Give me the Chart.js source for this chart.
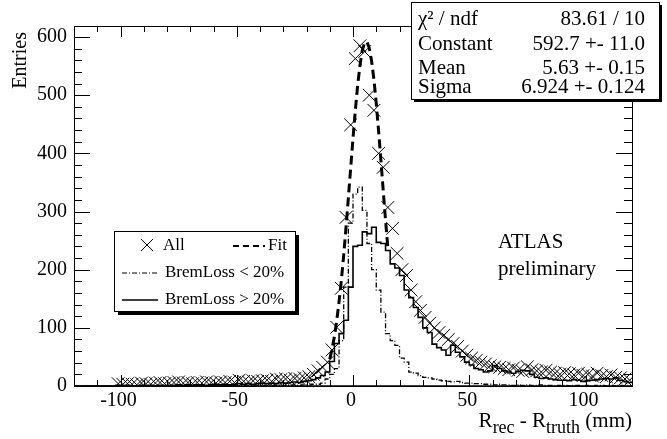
<!DOCTYPE html>
<html lang="en">
<head>
<meta charset="UTF-8">
<title>R_rec - R_truth</title>
<script src="https://cdn.jsdelivr.net/npm/chart.js"></script>
<style>
    body { margin: 0; background: white; }
    #wrap { width: 667px; height: 439px; }
</style>
</head>
<body>
<div id="wrap"><canvas id="c" width="667" height="439"></canvas></div>
<script>
// histogram: 120 bins of 2 mm from -120 to 120
const binLow = -120, binWidth = 2;

// "All" (markers), null = empty bin
const allEntries = [
    null, null, null, null, null, null, null, null, null, 4,
    3, 4, 3, 2, 5, 4, 3, 5, 6, 4,
    5, 6, 7, 5, 6, 4, 6, 5, 7, 6,
    5, 7, 6, 8, 6, 10, 8, 7, 9, 8,
    9, 10, 8, 12, 11, 12, 10, 13, 12, 14,
    16, 20, 26, 32, 41, 62, 101, 168, 290, 449,
    563, 585, 575, 500, 474, 400, 376, 307, 271, 228,
    200, 190, 165, 145, 130, 118, 108, 100, 92, 87,
    80, 73, 68, 60, 53, 48, 44, 41, 38, 35,
    33, 32, 30, 28, 31, 27, 25, 33, 28, 26,
    24, 27, 24, 22, 20, 23, 21, 19, 22, 18,
    20, 17, 22, 18, 16, 19, 15, 14, 12, 10
];

// BremLoss > 20% (solid)
const bremHigh = [
    0, 0, 0, 0, 0, 0, 0, 0, 0, 1,
    0, 1, 0, 0, 1, 0, 1, 0, 1, 0,
    1, 1, 2, 1, 2, 1, 2, 2, 1, 2,
    3, 2, 3, 2, 3, 4, 3, 4, 3, 4,
    5, 4, 5, 4, 6, 5, 6, 7, 6, 8,
    9, 11, 14, 18, 24, 42, 73, 90, 113, 170,
    240, 242, 265, 262, 273, 247, 245, 233, 210, 203,
    190, 165, 152, 135, 118, 100, 92, 72, 66, 62,
    53, 70, 58, 50, 41, 36, 30, 28, 24, 26,
    35, 30, 26, 24, 22, 25, 27, 26, 20, 15,
    13, 14, 12, 11, 10, 10, 9, 11, 10, 8,
    9, 10, 11, 12, 13, 12, 14, 10, 8, 6
];

// BremLoss < 20% (dash-dot)
const bremLow = [
    0, 0, 0, 0, 0, 0, 0, 0, 0, 0,
    0, 0, 0, 0, 0, 0, 0, 0, 0, 0,
    0, 0, 0, 0, 0, 0, 0, 0, 0, 0,
    0, 0, 0, 0, 0, 0, 0, 0, 0, 0,
    1, 0, 1, 1, 0, 1, 1, 2, 1, 2,
    2, 3, 3, 5, 12, 20, 30, 78, 170, 280,
    330, 342, 302, 245, 200, 165, 127, 90, 78, 70,
    48, 41, 24, 22, 18, 15, 14, 12, 10, 9,
    8, 7, 8, 6, 5, 5, 4, 4, 3, 3,
    2, 3, 2, 2, 1, 2, 1, 2, 1, 1,
    2, 1, 1, 0, 1, 1, 0, 1, 1, 0,
    1, 0, 1, 1, 0, 1, 0, 1, 0, 0
];

// gaussian fit curve
const fitX = [-10, -9, -8, -7, -6, -5, -4, -3, -2, -1, 0, 1, 2, 3, 4, 5, 6, 7, 8, 9, 10, 11, 12, 13, 14, 15];
const fitY = [46, 64, 85, 112, 145, 182, 225, 273, 323, 375, 426, 474, 517, 551, 577, 590, 592, 581, 559, 527, 486, 439, 388, 336, 285, 237];

const xTickLabels = [-100, -50, 0, 50, 100];
const yTickLabels = [0, 100, 200, 300, 400, 500, 600];

const statNames = ["\u03C7\u00B2 / ndf", "Constant", "Mean", "Sigma"];
const statValues = ["83.61 / 10", "592.7 +- 11.0", "5.63 +- 0.15", "6.924 +- 0.124"];

const FONT = '"Liberation Serif", "Times New Roman", serif';

function stepPoints(vals) {
    let pts = vals.map((v, i) => ({ x: binLow + i * binWidth, y: v }));
    pts.push({ x: binLow + vals.length * binWidth, y: vals[vals.length - 1] });
    return pts;
}

const markerPts = allEntries.map((v, i) => ({ x: binLow + (i + 0.5) * binWidth, y: v }));
const fitPts = fitX.map((x, i) => ({ x: x, y: fitY[i] }));

function seg(ctx, x1, y1, x2, y2) {
    ctx.beginPath(); ctx.moveTo(x1, y1); ctx.lineTo(x2, y2); ctx.stroke();
}

const decorations = {
    id: 'decorations',
    afterDatasetsDraw(chart) {
        const { ctx, chartArea: a, scales: { x, y } } = chart;
        ctx.save();
        ctx.strokeStyle = '#000';
        ctx.fillStyle = '#000';
        ctx.lineWidth = 1;

        // frame
        ctx.strokeRect(a.left + 0.5, a.top + 0.5, a.right - a.left, a.bottom - a.top);
        ctx.lineWidth = 1.5;
        seg(ctx, a.left, a.bottom, a.right, a.bottom);
        ctx.lineWidth = 1;

        // x ticks (inside, bottom and top)
        for (let v = -120; v <= 120; v += 10) {
            const px = Math.round(x.getPixelForValue(v)) + 0.5;
            const len = v % 50 === 0 ? 11 : 6;
            seg(ctx, px, a.bottom, px, a.bottom - len);
            seg(ctx, px, a.top, px, a.top + len);
        }
        // y ticks (inside, left and right)
        for (let v = 0; v <= 610; v += 20) {
            const py = Math.round(y.getPixelForValue(v)) + 0.5;
            const len = v % 100 === 0 ? 16 : 8;
            seg(ctx, a.left, py, a.left + len, py);
            seg(ctx, a.right, py, a.right - len, py);
        }

        // tick labels
        ctx.font = '20px ' + FONT;
        ctx.textAlign = 'center';
        ctx.textBaseline = 'middle';
        xTickLabels.forEach(v => ctx.fillText(String(v), x.getPixelForValue(v) - 2, 401));
        ctx.textAlign = 'right';
        yTickLabels.forEach(v => ctx.fillText(String(v), 67, y.getPixelForValue(v)));

        // y title
        ctx.save();
        ctx.translate(21, 32);
        ctx.rotate(-Math.PI / 2);
        ctx.textAlign = 'right';
        ctx.textBaseline = 'middle';
        ctx.fillText('Entries', 0, 0);
        ctx.restore();

        // x title with subscripts
        const parts = [
            ['R', 21, 0], ['rec', 18, 6], [' - R', 21, 0], ['truth', 18, 6], [' (mm)', 21, 0]
        ];
        let total = 0;
        parts.forEach(p => { ctx.font = p[1] + 'px ' + FONT; total += ctx.measureText(p[0]).width; });
        let cx = a.right - total;
        ctx.textAlign = 'left';
        ctx.textBaseline = 'alphabetic';
        parts.forEach(p => {
            ctx.font = p[1] + 'px ' + FONT;
            ctx.fillText(p[0], cx, 427 + p[2]);
            cx += ctx.measureText(p[0]).width;
        });

        // ATLAS preliminary
        ctx.font = '21px ' + FONT;
        ctx.fillText('ATLAS', 498, 248);
        ctx.fillText('preliminary', 498, 275);

        ctx.restore();
    },
    afterDraw(chart) {
        const ctx = chart.ctx;
        ctx.save();
        ctx.fillStyle = '#000';
        ctx.strokeStyle = '#000';
        ctx.lineWidth = 1;

        // stats box
        const sb = { x: 411, y: 2, w: 248, h: 97 };
        ctx.fillRect(sb.x + 3, sb.y + 3, sb.w, sb.h);
        ctx.fillStyle = '#fff';
        ctx.fillRect(sb.x, sb.y, sb.w, sb.h);
        ctx.strokeRect(sb.x + 0.5, sb.y + 0.5, sb.w, sb.h);
        ctx.fillStyle = '#000';
        ctx.font = '21px ' + FONT;
        ctx.textBaseline = 'alphabetic';
        const rowY = [25, 50, 74, 93];
        statNames.forEach((n, i) => {
            ctx.textAlign = 'left';
            ctx.fillText(n, 418, rowY[i]);
            ctx.textAlign = 'right';
            ctx.fillText(statValues[i], 645, rowY[i]);
        });

        // legend box
        const lb = { x: 114, y: 231, w: 181, h: 80 };
        ctx.fillRect(lb.x + 4, lb.y + 4, lb.w, lb.h);
        ctx.fillStyle = '#fff';
        ctx.fillRect(lb.x, lb.y, lb.w, lb.h);
        ctx.strokeRect(lb.x + 0.5, lb.y + 0.5, lb.w, lb.h);
        ctx.fillStyle = '#000';
        ctx.font = '17px ' + FONT;
        ctx.textAlign = 'left';
        ctx.textBaseline = 'middle';

        // row 1: All marker + Fit
        seg(ctx, 141, 239, 153, 251);
        seg(ctx, 141, 251, 153, 239);
        ctx.fillText('All', 163, 246);
        ctx.lineWidth = 2;
        ctx.setLineDash([6, 4]);
        seg(ctx, 233, 246, 265, 246);
        ctx.setLineDash([]);
        ctx.fillText('Fit', 268, 246);

        // row 2: dash-dot
        ctx.lineWidth = 1.2;
        ctx.setLineDash([5, 2, 1, 2]);
        seg(ctx, 122, 273, 158, 273);
        ctx.setLineDash([]);
        ctx.fillText('BremLoss < 20%', 165, 273);

        // row 3: solid
        ctx.lineWidth = 1.5;
        seg(ctx, 122, 300, 158, 300);
        ctx.fillText('BremLoss > 20%', 165, 300);

        ctx.restore();
    }
};

new Chart(document.getElementById('c'), {
    type: 'line',
    data: {
        datasets: [
            {
                label: 'BremLoss > 20%',
                data: stepPoints(bremHigh),
                stepped: 'before',
                borderColor: '#000',
                borderWidth: 1.6,
                pointRadius: 0,
                fill: false
            },
            {
                label: 'BremLoss < 20%',
                data: stepPoints(bremLow),
                stepped: 'before',
                borderColor: '#000',
                borderWidth: 1.3,
                borderDash: [5, 2, 1, 2],
                pointRadius: 0,
                fill: false
            },
            {
                label: 'Fit',
                data: fitPts,
                borderColor: '#000',
                borderWidth: 3,
                borderDash: [9, 5],
                pointRadius: 0,
                tension: 0,
                fill: false
            },
            {
                label: 'All',
                data: markerPts,
                showLine: false,
                pointStyle: 'crossRot',
                pointRadius: 9,
                borderColor: '#000',
                borderWidth: 1,
                backgroundColor: '#000'
            }
        ]
    },
    options: {
        responsive: false,
        animation: false,
        layout: { padding: { top: 26, right: 35, left: 0, bottom: 0 } },
        plugins: {
            legend: { display: false },
            tooltip: { enabled: false }
        },
        scales: {
            x: {
                type: 'linear',
                min: -120,
                max: 120,
                grid: { display: false },
                border: { display: false },
                ticks: { display: false },
                afterFit(s) { s.height = 53; }
            },
            y: {
                type: 'linear',
                min: 0,
                max: 619,
                grid: { display: false },
                border: { display: false },
                ticks: { display: false },
                afterFit(s) { s.width = 74; }
            }
        }
    },
    plugins: [decorations]
});
</script>
</body>
</html>
